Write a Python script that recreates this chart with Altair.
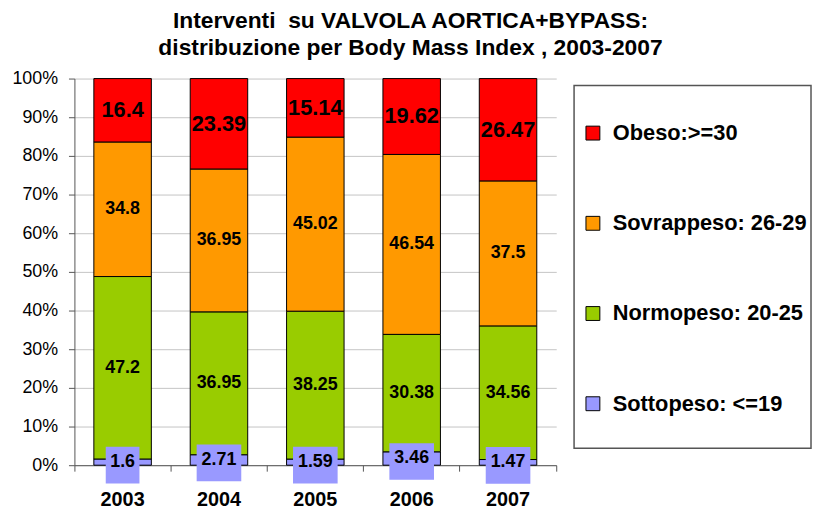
import altair as alt
import pandas as pd

years = ["2003", "2004", "2005", "2006", "2007"]
categories = ["Sottopeso: <=19", "Normopeso: 20-25", "Sovrappeso: 26-29", "Obeso:>=30"]
sottopeso = [1.6, 2.71, 1.59, 3.46, 1.47]
normopeso = [47.2, 36.95, 38.25, 30.38, 34.56]
sovrappeso = [34.8, 36.95, 45.02, 46.54, 37.5]
obeso = [16.4, 23.39, 15.14, 19.62, 26.47]
colors = ["#9999FF", "#99CC00", "#FF9900", "#FF0000"]

title_lines = ["Interventi \u00a0su VALVOLA AORTICA+BYPASS:",
               "distribuzione per Body Mass Index , 2003-2007"]

rows = []
for ci, (cat, vals) in enumerate(zip(categories, [sottopeso, normopeso, sovrappeso, obeso])):
    for yr, v in zip(years, vals):
        rows.append({"year": yr, "cat": cat, "ord": ci, "value": v, "label": str(v)})
df = pd.DataFrame(rows)

FONT = "Liberation Sans"

legend_order = list(reversed(categories))
legend_colors = list(reversed(colors))

base = alt.Chart(df).transform_stack(
    stack="value", as_=["y0", "y1"], groupby=["year"],
    sort=[alt.SortField("ord", order="ascending")], offset="normalize"
).transform_calculate(mid="(datum.y0 + datum.y1) / 2")

x_enc = alt.X(
    "year:N", title=None,
    scale=alt.Scale(paddingInner=0, paddingOuter=0),
    axis=alt.Axis(
        labelAngle=0, labelFontSize=20, labelFontWeight="bold", labelFont=FONT,
        labelColor="black", domainColor="#555", tickColor="#555", tickSize=6,
        bandPosition=1, tickExtra=True, labelPadding=19,
        grid=False,
    ),
)
y_enc = alt.Y(
    "y0:Q", title=None,
    scale=alt.Scale(domain=[0, 1], nice=False),
    axis=alt.Axis(
        format=".0%", values=[i / 10 for i in range(11)], tickCount=11,
        labelOverlap=False, labelFontSize=18,
        labelFont=FONT, labelColor="black", domainColor="#555", tickColor="#555",
        tickSize=6, labelPadding=11, gridColor="#c4c4c4", gridWidth=1,
    ),
)

frame = alt.Chart(pd.DataFrame({"k": [0]})).mark_rect(
    fill="white", stroke="#555", strokeWidth=1.5
).encode(x=alt.value(504), x2=alt.value(743), y=alt.value(7), y2=alt.value(373))

bars = base.mark_bar(width=58, stroke="black", strokeWidth=1).encode(
    x=x_enc,
    y=y_enc,
    y2="y1:Q",
    color=alt.Color(
        "cat:N",
        scale=alt.Scale(domain=legend_order, range=legend_colors),
        legend=alt.Legend(
            orient="none", legendX=512, legendY=44, title=None,
            symbolType="square", symbolSize=196, symbolStrokeColor="black",
            symbolStrokeWidth=1, symbolOpacity=1, labelFontSize=22,
            labelFontWeight="bold", labelFont=FONT, labelColor="black",
            rowPadding=69, padding=0, labelOffset=9, labelLimit=400,
        ),
    ),
    order=alt.Order("ord:Q"),
)

path3 = "M-0.85,-0.925L0.85,-0.925L0.85,0.925L-0.85,0.925Z"
path4 = "M-1.125,-0.925L1.125,-0.925L1.125,0.925L-1.125,0.925Z"

boxes = base.transform_filter("datum.ord == 0").mark_point(
    filled=True, color="#9999FF", opacity=1, size=1600, yOffset=3
).encode(
    x="year:N",
    y="mid:Q",
    shape=alt.condition("length(datum.label) > 3", alt.value(path4), alt.value(path3)),
)

def text_layer(test, size):
    return base.transform_filter(test).mark_text(
        font=FONT, fontWeight="bold", fontSize=size, color="black",
        align="center", baseline="middle",
    ).encode(x="year:N", y="mid:Q", text="label:N")

t_bottom = text_layer("datum.ord == 0", 18)
t_mid = text_layer("datum.ord == 1 || datum.ord == 2", 18)
t_top = text_layer("datum.ord == 3", 22)

chart = alt.layer(frame, bars, boxes, t_bottom, t_mid, t_top).properties(
    width=486, height=390,
    autosize="none",
    padding={"left": 67, "top": 69, "right": 258, "bottom": 42},
    title=alt.TitleParams(
        title_lines, font=FONT, fontSize=23, fontWeight="bold", color="black",
        anchor="middle", frame="group", dx=96, offset=10, lineHeight=27,
    ),
).configure_view(stroke=None).configure_axis(domainWidth=1)

chart.save("out.html", embed_options={"renderer": "svg", "actions": False})
